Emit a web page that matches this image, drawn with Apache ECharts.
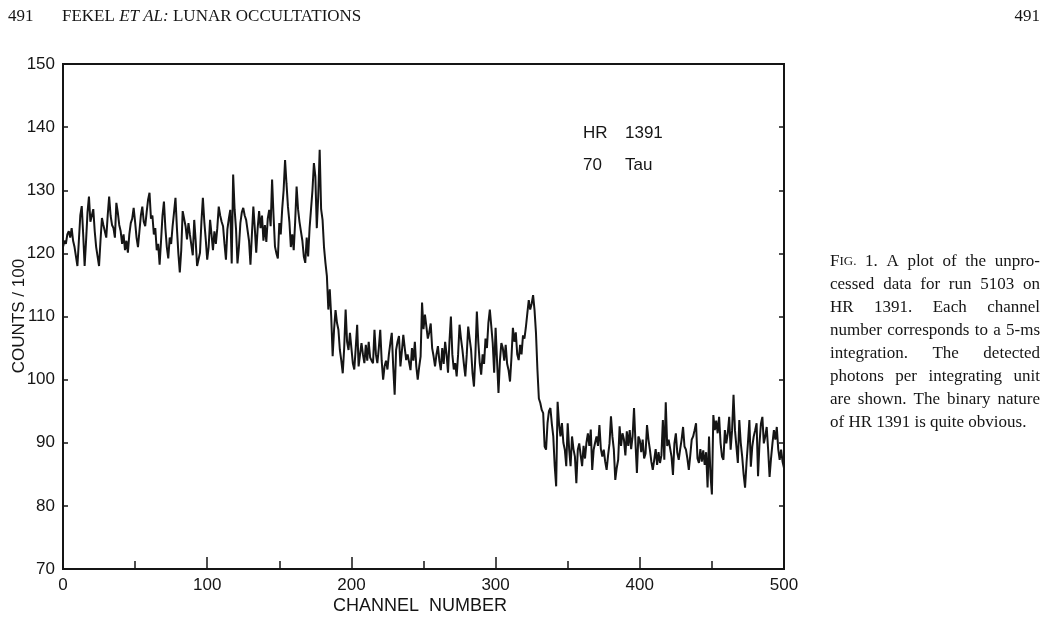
<!DOCTYPE html>
<html>
<head>
<meta charset="utf-8">
<script src="https://cdn.jsdelivr.net/npm/echarts@6/dist/echarts.min.js"></script>
<style>
  html, body { margin: 0; padding: 0; background: #fff; }
  #chart { width: 1045px; height: 619px; }
</style>
</head>
<body>
<div id="chart"></div>
<script>
// Photon counts (in hundreds) per 5-ms channel, run 5103 on HR 1391.
const counts0_99 = [
  121, 122, 121.5, 123, 123.5, 122.5, 124, 122, 121, 119.5,
  118, 122, 126, 127.5, 123, 118, 122, 126.5, 129, 125,
  126, 127, 123.5, 121, 119.5, 118, 122, 125.6, 124.5, 123.5,
  122.5, 126, 129, 126, 124.5, 124, 122.5, 128, 126.5, 124.5,
  123.5, 121.5, 123, 120.5, 122, 120.1, 123, 124.8, 125.5, 127.2,
  125, 122.5, 121, 123.5, 126, 127.4, 125, 124.3, 126.5, 128.5,
  129.6, 125.5, 126, 123, 124, 120.5, 121.5, 118.2, 122, 126,
  128.2, 124, 121, 119.2, 122.5, 121.5, 124.3, 126.5, 128.8, 124,
  120, 117, 120.5, 126.7, 126.4, 124.3, 122.2, 124.8, 123, 123.2,
  119.7, 125.3, 122, 118, 117.9, 120.1, 125, 128.8, 125, 122.2
];
const counts100_199 = [
  119, 121, 125.3, 123, 120.5, 123.5, 121.5, 124, 127.4, 126,
  125, 124.3, 121.5, 119, 123.8, 125.5, 126.9, 118.4, 132.5, 127,
  123.8, 118.4, 121, 124.8, 126.5, 127.2, 126, 125.3, 125.6, 122,
  118.2, 123, 127.4, 124, 120.1, 124, 126.7, 124, 126, 122,
  124.5, 121.8, 125.5, 126.9, 124.3, 131.7, 126, 121.1, 120, 119.2,
  124.8, 123, 127, 130, 134.8, 131, 127.4, 125, 121, 123,
  120.5, 125, 130.6, 127, 125, 123.5, 122, 119.5, 118.5, 122.5,
  119.5, 124, 123.7, 130, 134.3, 132.2, 124, 129, 136.4, 127,
  125.3, 121, 118.5, 116.4, 111.1, 114.3, 110, 103.7, 108, 111,
  109, 107.9, 104.7, 103, 101, 105, 111.1, 106, 104.7, 107.4
];
const counts200_299 = [
  105, 102.6, 101.6, 105, 108.7, 102.1, 104, 105.8, 104, 102.6,
  105.5, 103, 106, 103.5, 103, 102.6, 107.9, 104, 102.6, 105,
  107.9, 103, 100, 102.1, 103, 101.6, 104, 105.8, 107.4, 102,
  97.6, 104.7, 106, 106.9, 102.1, 104.5, 107.1, 105, 103.1, 104,
  103.7, 101.5, 105, 103, 106, 102.1, 100, 102, 103.7, 112.2,
  108, 110.3, 108.4, 106.5, 107.5, 108.9, 105, 103.7, 102.1, 104,
  105.3, 103, 101.5, 105, 102.5, 106, 104, 101.1, 106, 110,
  104, 101.6, 102.6, 100.5, 104, 108.7, 106.5, 104.7, 102.5, 100.5,
  104, 108.4, 106.5, 104.7, 101, 98.9, 104, 110.8, 106, 102.6,
  100.8, 104, 102.5, 106.5, 105, 109, 111.1, 108.5, 105.8, 101.1
];
const counts300_399 = [
  108.2, 103, 97.9, 103, 105.8, 105, 103, 105.5, 102.5, 101.5,
  99.7, 103.5, 108.2, 106, 107.5, 104, 103.1, 105.5, 104, 107,
  106.5, 108.3, 110.5, 112.6, 111.1, 112, 113.4, 111, 107.4, 101.6,
  97, 96.3, 95.2, 94.7, 89.4, 88.9, 93.1, 95, 95.5, 93,
  91, 86.3, 83.1, 96.5, 93, 91, 93.1, 90, 88.9, 86.3,
  93.1, 89, 86.3, 91, 89, 87.8, 83.6, 88.9, 89.9, 88,
  86.3, 89.5, 87.5, 90, 91.5, 89.5, 92.1, 85.7, 88.9, 90,
  91, 89.5, 92.8, 89, 87.8, 88.9, 87, 85.7, 88, 89.9,
  94.2, 91, 88.9, 84.1, 86, 87.3, 92.6, 89.5, 91.5, 90.5,
  88, 91.8, 89.5, 92, 89, 91, 95.5, 90, 85.2, 91
];
const counts400_500 = [
  90.4, 88.5, 90.5, 87.5, 88.3, 92.8, 90.5, 88.9, 87, 85.7,
  87.3, 89, 86.5, 88.5, 86.8, 88, 93.6, 87.3, 96.4, 89.5,
  90.5, 90.5, 87.8, 84.9, 89.9, 91.5, 88.4, 87.3, 89, 90.5,
  92.5, 89.4, 88.9, 87.5, 85.7, 88, 90.5, 91, 92, 93.1,
  87.5, 86.8, 89, 87, 88.8, 86.5, 88.5, 82.9, 91, 85,
  81.8, 94.4, 92, 93.5, 91.5, 94.1, 90, 87.8, 87.3, 92,
  89.9, 91.5, 94.1, 88.9, 92, 97.6, 92, 89.4, 86.8, 93.6,
  90, 87.8, 85, 82.9, 86.8, 90, 93.6, 86.2, 89.4, 91,
  92, 93.1, 84.7, 89.9, 93, 94.1, 89.9, 91, 92.5, 88.9,
  84.6, 87.5, 89.9, 92, 90.5, 92.5, 89, 87.3, 88.9, 87, 86
];

// Axis ranges and steps
const channelMin = 0, channelMax = 500, channelStep = 100;
const countMin = 70, countMax = 150, countStep = 10;

const counts = [].concat(counts0_99, counts100_199, counts200_299, counts300_399, counts400_500);
const seriesData = counts.map((v, ch) => [ch, v]);

const ink = '#151515';
const sans = '"Liberation Sans", Arial, sans-serif';
const serif = '"Liberation Serif", "Times New Roman", serif';

// Grid frame in pixels
const G = { left: 63, top: 64, width: 721, height: 505 };

// Figure caption, set justified in a narrow column
const captionLines = [
  'FIG. 1.  A plot of the unpro-',
  'cessed data for run 5103 on',
  'HR 1391. Each channel',
  'number corresponds to a 5-ms',
  'integration. The detected',
  'photons per integrating unit',
  'are shown. The binary nature',
  'of HR 1391 is quite obvious.'
];
const capFont = '17px ' + serif;
const capSmall = '13px ' + serif;
const capX = 830, capW = 210, capY0 = 262, capLead = 22.9;

const measureCtx = document.createElement('canvas').getContext('2d');
function textWidth(str, font) { measureCtx.font = font; return measureCtx.measureText(str).width; }

function textEl(x, y, str, font, extra) {
  return Object.assign({
    type: 'text', x: x, y: y, silent: true,
    style: { text: str, font: font, fill: ink,
      align: 'left', textAlign: 'left', verticalAlign: 'middle', textVerticalAlign: 'middle' }
  }, extra || {});
}

function wordParts(w) {
  // "FIG." is set in small capitals
  if (w === 'FIG.') return [['F', capFont], ['IG.', capSmall]];
  return [[w, capFont]];
}

const captionEls = [];
captionLines.forEach((line, li) => {
  const words = line.split(/\s+/);
  const y = capY0 + li * capLead;
  const widths = words.map(w => wordParts(w).reduce((s, p) => s + textWidth(p[0], p[1]), 0));
  const total = widths.reduce((a, b) => a + b, 0);
  const last = li === captionLines.length - 1;
  const gap = last ? textWidth(' ', capFont) : (capW - total) / (words.length - 1);
  let x = capX;
  words.forEach((w, wi) => {
    let px = x;
    wordParts(w).forEach(p => {
      captionEls.push(textEl(px, y, p[0], p[1], { style: { text: p[0], font: p[1], fill: ink,
        align: 'left', textAlign: 'left', verticalAlign: p[1] === capSmall ? 'bottom' : 'middle',
        textVerticalAlign: p[1] === capSmall ? 'bottom' : 'middle' } }));
      if (p[1] === capSmall) {
        captionEls[captionEls.length - 1].y = y + 6;
      }
      px += textWidth(p[0], p[1]);
    });
    x += widths[wi] + gap;
  });
});

// Running head
const headFont = '17px ' + serif;
const headItalic = 'italic 17px ' + serif;
const headEls = [];
(function () {
  const y = 17;
  headEls.push(textEl(8, y, '491', headFont));
  let x = 62;
  [['FEKEL ', headFont], ['ET AL:', headItalic], [' LUNAR OCCULTATIONS', headFont]].forEach(p => {
    headEls.push(textEl(x, y, p[0], p[1]));
    x += textWidth(p[0], p[1]);
  });
  headEls.push(textEl(1040, y, '491', headFont, { style: { text: '491', font: headFont, fill: ink,
    align: 'right', textAlign: 'right', verticalAlign: 'middle', textVerticalAlign: 'middle' } }));
})();

const labelFont = '17px ' + sans;
const annoEls = [
  textEl(583, 133, 'HR', labelFont),
  textEl(625, 133, '1391', labelFont),
  textEl(583, 165, '70', labelFont),
  textEl(625, 165, 'Tau', labelFont),
  textEl(420, 606, 'CHANNEL  NUMBER', '18px ' + sans, { style: { text: 'CHANNEL  NUMBER', font: '18px ' + sans,
    fill: ink, align: 'center', textAlign: 'center', verticalAlign: 'middle', textVerticalAlign: 'middle' } }),
  {
    type: 'text', x: 19, y: 316, rotation: Math.PI / 2, silent: true,
    style: { text: 'COUNTS / 100', font: '17px ' + sans, fill: ink,
      align: 'center', textAlign: 'center', verticalAlign: 'middle', textVerticalAlign: 'middle' }
  }
];

const chart = echarts.init(document.getElementById('chart'), null, { renderer: 'canvas' });

const axisLabelStyle = { color: ink, fontFamily: sans, fontSize: 17 };

chart.setOption({
  animation: false,
  backgroundColor: '#fff',
  grid: {
    left: G.left, top: G.top, width: G.width, height: G.height,
    containLabel: false, outerBoundsMode: 'none',
    show: true, borderColor: ink, borderWidth: 2, backgroundColor: 'transparent'
  },
  xAxis: {
    type: 'value', min: channelMin, max: channelMax, interval: channelStep,
    axisLine: { show: true, onZero: false, lineStyle: { color: ink, width: 2 } },
    axisTick: { show: true, inside: true, length: 12, lineStyle: { color: ink, width: 1.5 } },
    minorTick: { show: true, splitNumber: 2, length: 8, lineStyle: { color: ink, width: 1.5 } },
    axisLabel: Object.assign({ margin: 8, showMinLabel: true, showMaxLabel: true }, axisLabelStyle),
    splitLine: { show: false },
    minorSplitLine: { show: false }
  },
  yAxis: [
    {
      type: 'value', position: 'left', min: countMin, max: countMax, interval: countStep,
      axisLine: { show: true, onZero: false, lineStyle: { color: ink, width: 2 } },
      axisTick: { show: true, inside: true, length: 5, lineStyle: { color: ink, width: 1.5 } },
      axisLabel: Object.assign({ margin: 8, showMinLabel: true, showMaxLabel: true }, axisLabelStyle),
      splitLine: { show: false }
    },
    {
      type: 'value', position: 'right', min: countMin, max: countMax, interval: countStep,
      axisLine: { show: true, onZero: false, lineStyle: { color: ink, width: 2 } },
      axisTick: { show: true, inside: true, length: 5, lineStyle: { color: ink, width: 1.5 } },
      axisLabel: { show: false },
      splitLine: { show: false }
    }
  ],
  series: [{
    type: 'line',
    data: seriesData,
    yAxisIndex: 0,
    showSymbol: false,
    symbol: 'none',
    lineStyle: { color: ink, width: 2 },
    emphasis: { disabled: true },
    z: 3
  }],
  graphic: { elements: [].concat(headEls, annoEls, captionEls) }
});
</script>
</body>
</html>
